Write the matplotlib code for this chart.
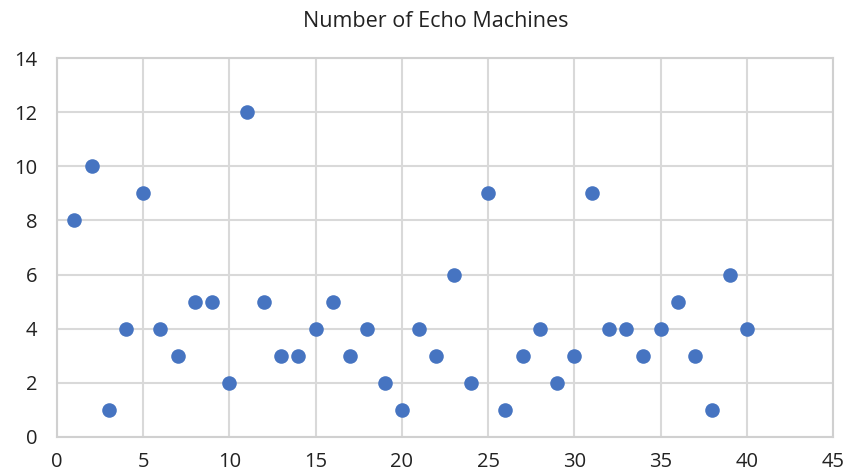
import matplotlib
matplotlib.use("Agg")
import matplotlib.pyplot as plt

# machine index and count
machine_ids = list(range(1, 41))
echo_counts = [8, 10, 1, 4, 9, 4, 3, 5, 5, 2,
               12, 5, 3, 3, 4, 5, 3, 4, 2, 1,
               4, 3, 6, 2, 9, 1, 3, 4, 2, 3,
               9, 4, 4, 3, 4, 5, 3, 1, 6, 4]
x_ticks = [0, 5, 10, 15, 20, 25, 30, 35, 40, 45]
y_ticks = [0, 2, 4, 6, 8, 10, 12, 14]

plt.rcParams["font.family"] = ["Open Sans", "DejaVu Sans"]

fig = plt.figure(figsize=(8.59, 4.76), dpi=100)
ax = fig.add_axes([0.0664, 0.082, 0.9033, 0.796])

ax.scatter(machine_ids, echo_counts, s=110, color="#4674C1", zorder=3, linewidths=0)

ax.set_xlim(0, 45)
ax.set_ylim(0, 14)
ax.set_xticks(x_ticks)
ax.set_yticks(y_ticks)
ax.grid(True, color="#d9d9d9", linewidth=1.5)
ax.set_axisbelow(True)
for side in ax.spines.values():
    side.set_color("#d0d0d0")
    side.set_linewidth(1.5)
ax.tick_params(length=0, labelsize=14.5, colors="#222222", pad=11)
ax.tick_params(axis="y", pad=14)

fig.text(0.507, 0.955, "Number of Echo Machines", ha="center", va="center",
         fontsize=15.5, color="#222222")

fig.savefig("out.png", dpi=100)
